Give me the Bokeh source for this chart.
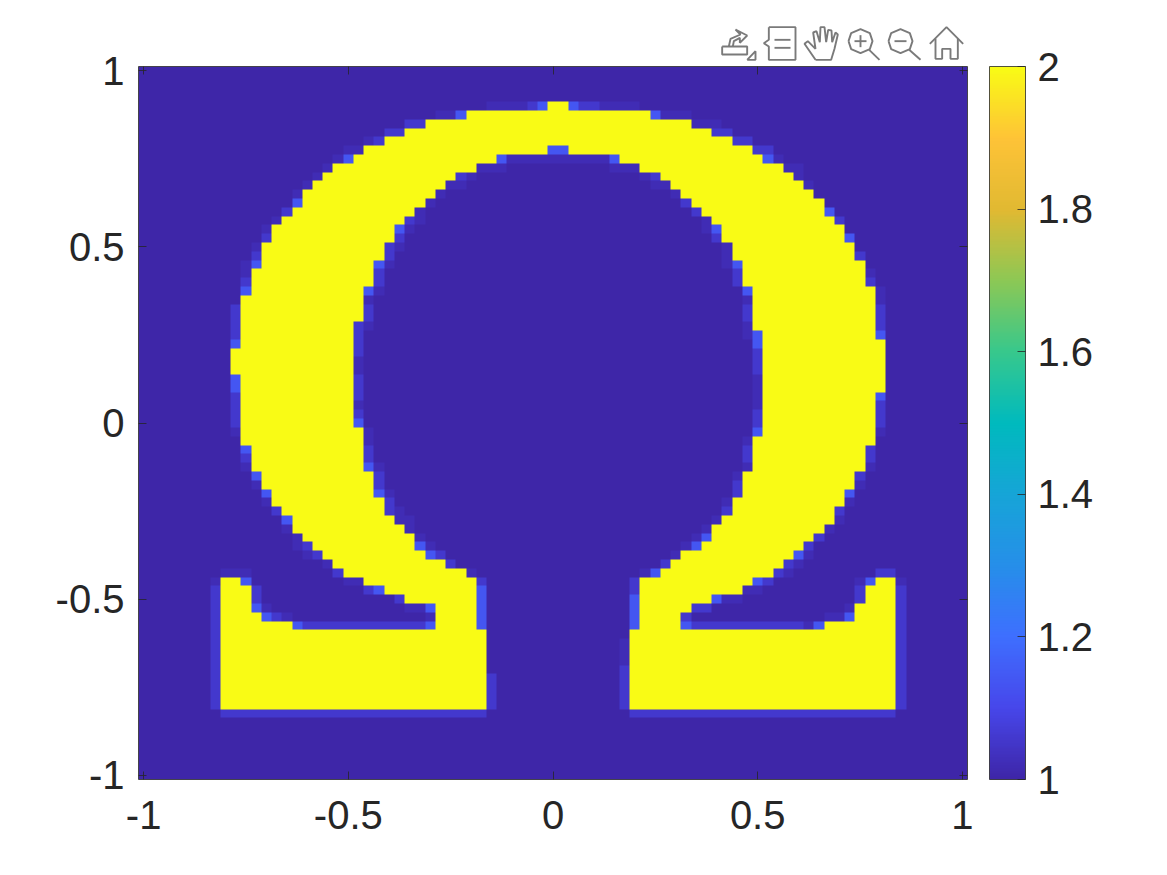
import numpy as np
from bokeh.plotting import figure
from bokeh.models import (LinearColorMapper, ColorBar, FixedTicker, LinearAxis, Range1d)
from bokeh.embed import file_html
from bokeh.resources import INLINE

# ---- data: 81 x 81 cells, row 0 at the top -----------------------------------
n_cells = 81
low_value, high_value = 1.0, 2.0
dim_value, mid_value, bright_value = 1.02, 1.055, 1.14
x_ticks = [-1, -0.5, 0, 0.5, 1]
y_ticks = [-1, -0.5, 0, 0.5, 1]
bar_ticks = [1, 1.2, 1.4, 1.6, 1.8, 2]

yellow_runs = {
    4: [(40, 42)], 5: [(32, 50)], 6: [(28, 54)], 7: [(26, 56)], 8: [(24, 58)],
    9: [(22, 40), (42, 60)], 10: [(21, 35), (47, 61)], 11: [(19, 33), (49, 63)],
    12: [(18, 31), (51, 64)], 13: [(17, 30), (52, 65)], 14: [(16, 29), (53, 66)],
    15: [(16, 28), (54, 67)], 16: [(15, 27), (55, 67)], 17: [(14, 26), (56, 68)],
    18: [(13, 25), (57, 69)], 19: [(13, 25), (57, 69)], 20: [(12, 24), (58, 70)],
    21: [(12, 24), (58, 70)], 22: [(12, 23), (59, 71)], 23: [(11, 23), (59, 71)],
    24: [(11, 23), (59, 71)], 25: [(11, 22), (60, 72)], 26: [(10, 22), (60, 72)],
    27: [(10, 22), (60, 72)], 28: [(10, 22), (60, 72)], 29: [(10, 21), (60, 72)],
    30: [(10, 21), (61, 72)], 31: [(10, 21), (61, 73)], 32: [(9, 21), (61, 73)],
    33: [(9, 21), (61, 73)], 34: [(9, 21), (61, 73)], 35: [(10, 21), (61, 73)],
    36: [(10, 21), (61, 73)], 37: [(10, 21), (61, 72)], 38: [(10, 21), (61, 72)],
    39: [(10, 21), (61, 72)], 40: [(10, 21), (61, 72)], 41: [(10, 22), (61, 72)],
    42: [(10, 22), (60, 72)], 43: [(11, 22), (60, 71)], 44: [(11, 22), (60, 71)],
    45: [(11, 22), (60, 71)], 46: [(12, 23), (59, 70)], 47: [(12, 23), (59, 70)],
    48: [(13, 23), (59, 69)], 49: [(13, 24), (58, 69)], 50: [(14, 24), (58, 68)],
    51: [(15, 25), (57, 68)], 52: [(15, 26), (56, 67)], 53: [(16, 27), (56, 66)],
    54: [(17, 27), (55, 65)], 55: [(18, 28), (53, 64)], 56: [(19, 30), (52, 63)],
    57: [(20, 32), (51, 62)],
    58: [(8, 10), (22, 33), (49, 60), (72, 74)],
    59: [(8, 11), (24, 33), (49, 59), (71, 74)],
    60: [(8, 11), (26, 33), (49, 56), (71, 74)],
    61: [(8, 11), (29, 33), (49, 54), (70, 74)],
    62: [(8, 12), (29, 33), (49, 53), (70, 74)],
    63: [(8, 15), (29, 33), (49, 53), (67, 74)],
    64: [(8, 34), (48, 74)], 65: [(8, 34), (48, 74)], 66: [(8, 34), (48, 74)],
    67: [(8, 34), (48, 74)], 68: [(8, 34), (48, 74)], 69: [(8, 34), (48, 74)],
    70: [(8, 34), (48, 74)], 71: [(8, 34), (48, 74)], 72: [(8, 34), (48, 74)],
}

bright_cells = {
    4: [39, 42], 5: [31, 50], 9: [40, 41], 10: [20, 35, 46, 61], 15: [15], 16: [67], 18: [25, 56],
    19: [69], 22: [11, 23, 58], 25: [10, 22, 59], 30: [60, 72], 31: [9, 60],
    35: [9], 36: [9], 37: [72], 40: [21], 41: [60], 43: [10], 45: [22], 46: [11],
    48: [12, 23, 69], 51: [14], 53: [55], 54: [27, 54], 55: [28, 64], 57: [50],
    58: [10, 60, 71], 59: [23, 33], 60: [33, 48, 56], 61: [11, 28, 33, 48],
    62: [12, 33, 48, 69], 63: [15, 28, 33, 48, 53, 66],
}
mid_cells = {
    4: [38, 43, 44], 6: [26, 27], 7: [24, 25, 56, 57], 8: [23, 58, 59], 9: [60, 61],
    12: [31, 50], 15: [53], 16: [14, 54], 17: [26, 68], 19: [12, 25, 56], 20: [24],
    21: [11, 24, 70], 23: [23, 58], 24: [10, 23, 58, 71], 27: [9, 22, 59, 72],
    28: [9, 22, 59, 72], 29: [9, 21, 72], 30: [9, 21], 31: [21], 32: [21, 60],
    33: [60], 34: [60], 35: [21], 36: [21], 37: [9, 21], 38: [9, 72], 39: [9, 21, 60, 72],
    40: [9, 60, 72], 43: [22, 59, 71], 44: [10, 22, 59, 71], 46: [23, 70],
    47: [23, 58], 48: [58], 49: [24], 50: [13, 24, 57, 68], 53: [66], 54: [16, 65],
    55: [17, 29], 56: [30, 51, 63], 57: [19, 62, 72, 73], 58: [33, 48, 61],
    59: [7, 11, 22, 48, 70, 74], 60: [7, 11, 25, 70, 74], 61: [7, 54, 55, 74],
    62: [7, 13, 53, 74],
    63: [7, 16, 17, 18, 19, 20, 21, 22, 23, 24, 25, 26, 27, 54, 55, 56, 57, 58, 59, 60,
         61, 62, 63, 64, 74],
    64: [7, 74], 65: [7, 74], 66: [7, 74], 67: [7, 74], 68: [7, 47, 74],
    69: [7, 34, 47, 74], 70: [7, 34, 47, 74], 71: [7, 34, 47, 74], 72: [7, 34, 47, 74],
    73: [8, 9, 10, 11, 12, 13, 14, 15, 16, 17, 18, 19, 20, 21, 22, 23, 24, 25, 26, 27,
         28, 29, 30, 31, 32, 33, 48, 49, 50, 51, 52, 53, 54, 55, 56, 57, 58, 59, 60, 61,
         62, 63, 64, 65, 66, 67, 68, 69, 70, 71, 72, 73],
}
dim_cells = {
    4: [34, 35, 36, 37, 45, 46, 47, 48], 5: [29, 30, 51, 52, 53], 6: [54, 55, 56], 8: [22],
    9: [20, 21], 10: [19, 36, 37, 38, 39, 40, 41, 42, 43, 44, 45, 62],
    11: [18, 33, 34, 35, 46, 47, 48, 63, 64], 12: [17, 32, 49, 64], 13: [16, 30, 31, 50, 51, 65],
    14: [15, 29, 52], 15: [28], 16: [27], 17: [13, 27, 55], 18: [12, 26, 55], 20: [11, 25, 57],
    21: [57], 22: [10, 24, 57], 23: [10, 71], 25: [23, 72], 26: [22, 59, 72], 29: [22, 59],
    30: [59], 33: [21], 34: [21], 35: [60], 36: [60], 37: [60], 38: [21, 60], 41: [9, 22, 72],
    42: [22, 59], 45: [10, 23, 59, 71], 46: [58], 47: [11, 70], 48: [24], 49: [12, 57, 69],
    50: [25], 51: [25, 26, 56, 68], 52: [14, 26, 55, 67], 53: [15, 27, 54], 54: [15, 28, 53],
    55: [16, 52, 65], 56: [18, 64], 57: [8, 9, 10, 32, 49, 63],
    58: [7, 20, 21, 70, 74], 59: [59, 60], 60: [57, 58], 61: [12, 26, 27, 69],
    62: [14, 28, 67, 68], 63: [65], 65: [47], 66: [47], 67: [47],
}

# ---- parula colour map (style, not data) --------------------------------------
parula_stops = [
    (62, 38, 168), (71, 71, 235), (62, 111, 255), (38, 143, 233), (22, 165, 215),
    (0, 186, 190), (55, 200, 140), (140, 200, 85), (225, 185, 50), (254, 195, 55), (249, 251, 21),
]
stops = np.array(parula_stops, dtype=float)
pos = np.linspace(0, 1, len(stops))
t = np.linspace(0, 1, 256)
palette = ["#%02x%02x%02x" % tuple(int(round(np.interp(v, pos, stops[:, k]))) for k in range(3)) for v in t]

# ---- build the image -----------------------------------------------------------
grid = np.full((n_cells, n_cells), low_value)
for level, cells in ((dim_value, dim_cells), (mid_value, mid_cells), (bright_value, bright_cells)):
    for row, cols in cells.items():
        for col in cols:
            grid[row, col] = level
for row, runs in yellow_runs.items():
    for start, stop in runs:
        grid[row, start:stop] = high_value

half = 1.0125
frame_left, frame_top, frame_w, frame_h = 138, 66, 829, 713
p = figure(width=1151, height=859, output_backend="svg", toolbar_location=None,
           x_range=Range1d(-half, half), y_range=Range1d(-half, half),
           frame_width=frame_w, frame_height=frame_h,
           min_border_left=frame_left, min_border_top=frame_top, min_border_right=0, min_border_bottom=0,
           background_fill_color="white", border_fill_color="white")
mapper = LinearColorMapper(palette=palette, low=low_value, high=high_value)
p.image(image=[grid[::-1]], x=-half, y=-half, dw=2 * half, dh=2 * half, color_mapper=mapper)
p.grid.visible = False

ink = "#262626"
font = "Liberation Sans"
label_px = "40px"
def style(ax, ticks, labels=True):
    ax.ticker = FixedTicker(ticks=ticks)
    ax.major_tick_in = 8
    ax.major_tick_out = 0
    ax.minor_tick_line_color = None
    ax.major_tick_line_color = ink
    ax.major_tick_line_width = 0.8
    ax.axis_line_color = ink
    ax.axis_line_width = 0.8
    ax.major_label_text_font = font
    ax.major_label_text_font_size = label_px
    ax.major_label_text_color = ink
    ax.major_label_overrides = {v: ("%g" % v if labels else "") for v in ticks}
    if not labels:
        ax.major_label_standoff = 0

style(p.xaxis[0], x_ticks)
style(p.yaxis[0], y_ticks)
p.xaxis[0].major_label_standoff = 21
p.yaxis[0].major_label_standoff = 14
for side in ("above", "right"):
    a = LinearAxis()
    style(a, x_ticks, labels=False)
    p.add_layout(a, side)

bar = ColorBar(color_mapper=mapper, ticker=FixedTicker(ticks=bar_ticks), width=36, height=713,
               padding=0, margin=0, location=(22, 0),
               major_tick_in=8, major_tick_out=0, major_tick_line_color=ink, major_tick_line_width=0.8,
               minor_tick_line_color=None, bar_line_color=ink, bar_line_width=0.8,
               major_label_text_font=font, major_label_text_font_size=label_px, major_label_text_color=ink,
               major_label_overrides={v: ("%g" % v) for v in bar_ticks}, label_standoff=12)
p.add_layout(bar, "right")

# ---- the grey axes-toolbar icons above the plot, as thin outlines ---------------
icon_outlines = [
    [(65, 108), (140, 108), (140, 132), (65, 132), (65, 108)],
    [(85, 108), (90, 85), (120, 72), (105, 57), (140, 75), (118, 97), (118, 82), (100, 92), (97, 108)],
    [(140, 148), (165, 148), (165, 122), (140, 148)],
    [(205, 50), (285, 50), (285, 148), (205, 148), (205, 108), (190, 98), (205, 88), (205, 50)],
    [(222, 88), (270, 88)],
    [(222, 112), (270, 112)],
    [(345, 148), (392, 148), (402, 115), (412, 72), (405, 66), (395, 95), (393, 60), (383, 58), (377, 95),
     (372, 50), (360, 50), (358, 95), (348, 62), (338, 66), (345, 115), (322, 92), (312, 100), (345, 148)],
    [(444, 92), (452, 68), (480, 56), (508, 68), (516, 92), (508, 116), (480, 128), (452, 116), (444, 92)],
    [(506, 118), (537, 148)],
    [(462, 92), (498, 92)],
    [(480, 74), (480, 110)],
    [(564, 92), (572, 68), (600, 56), (628, 68), (636, 92), (628, 116), (600, 128), (572, 116), (564, 92)],
    [(626, 118), (660, 148)],
    [(582, 92), (618, 92)],
    [(688, 100), (738, 50), (788, 100)],
    [(772, 85), (772, 145), (750, 145), (750, 115), (725, 115), (725, 145), (705, 145), (705, 85)],
]
for outline in icon_outlines:
    xs = [-half + (700 + q[0] / 3 - frame_left) / frame_w * 2 * half for q in outline]
    ys = [half - (10 + q[1] / 3 - frame_top) / frame_h * 2 * half for q in outline]
    p.line(xs, ys, line_color="#7a7a7a", line_width=1.9, level="overlay")

open("out.html", "w").write(file_html(p, INLINE))
